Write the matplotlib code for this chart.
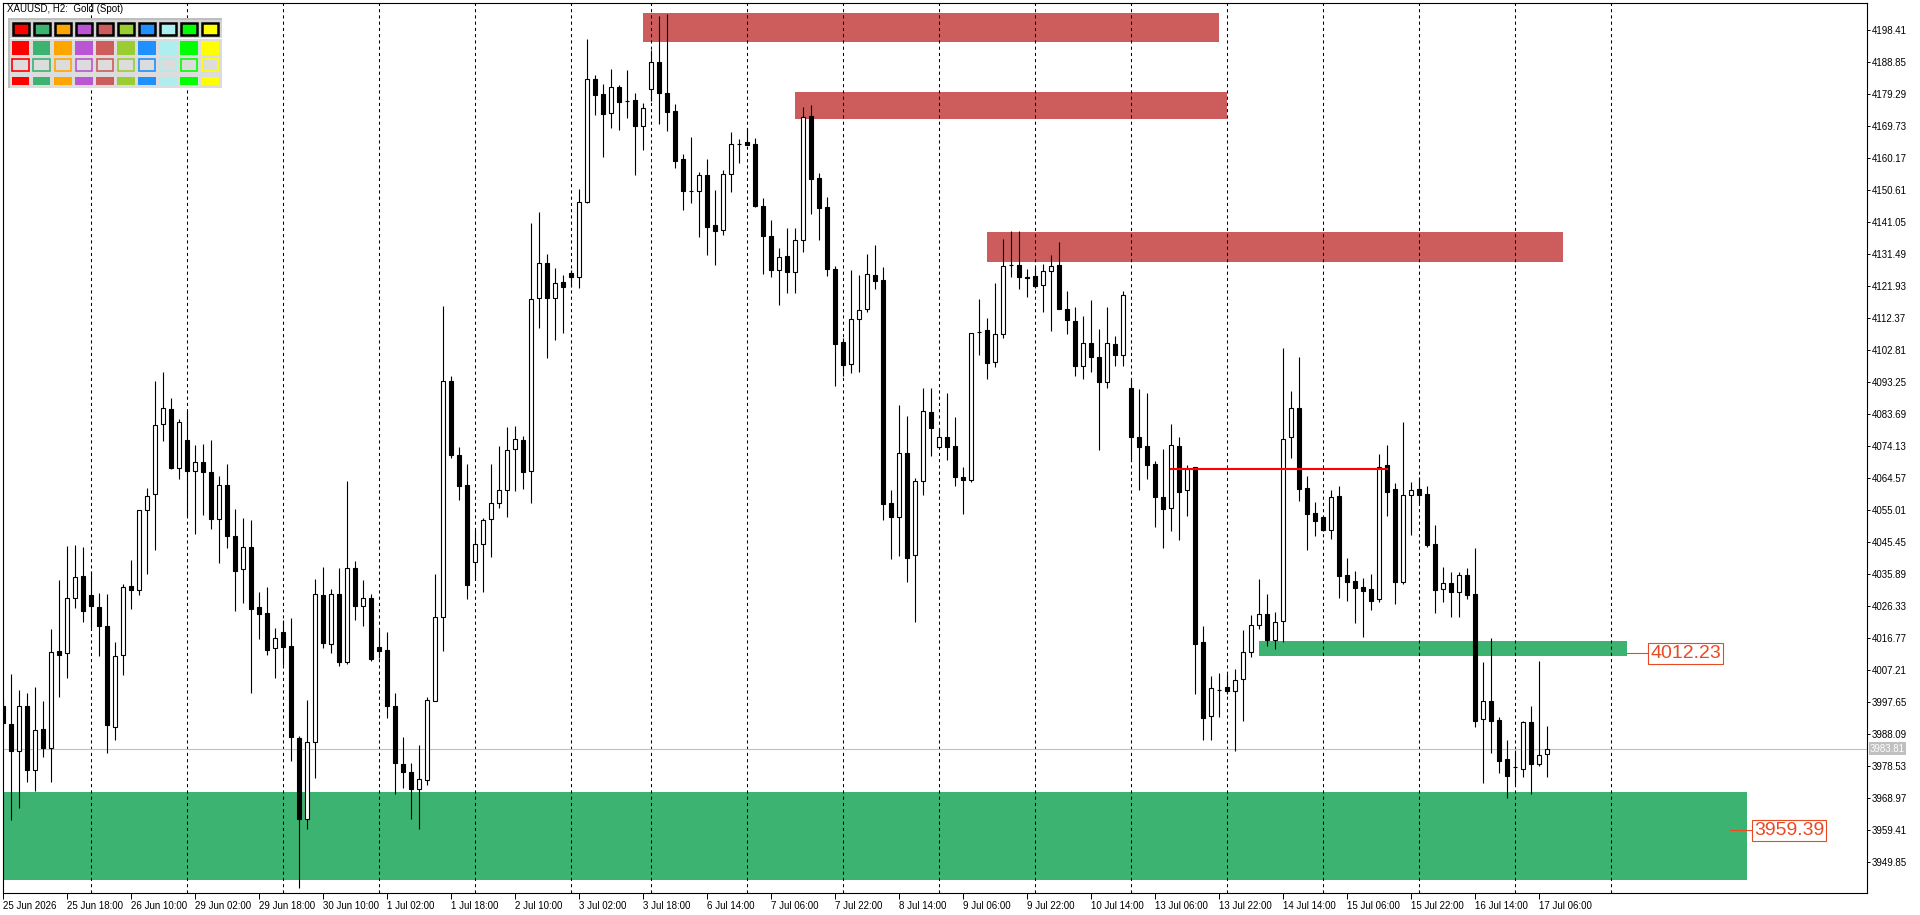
import numpy as np
import pandas as pd
import matplotlib
matplotlib.use("Agg")
import matplotlib.pyplot as plt
from matplotlib.patches import Rectangle

plt.rcParams['font.family'] = ['Liberation Sans', 'DejaVu Sans']

# trading sessions (H2 bars)
day_dates = ['2026-06-25', '2026-06-26', '2026-06-29', '2026-06-30', '2026-07-01', '2026-07-02',
             '2026-07-03', '2026-07-06', '2026-07-07', '2026-07-08', '2026-07-09', '2026-07-10',
             '2026-07-13', '2026-07-14', '2026-07-15', '2026-07-16', '2026-07-17']
day_first_hour = [2, 0, 0, 0, 0, 0, 0, 0, 0, 0, 0, 0, 0, 0, 0, 0, 0]
day_bar_count = [11, 12, 12, 12, 12, 12, 10, 12, 12, 12, 12, 12, 12, 12, 12, 12, 5]

opens = [3996.5, 3991.1, 3983.0, 3996.5, 3977.5, 3989.6, 3984.1, 4012.9, 4012.3, 4028.7,
         4035.3, 4029.7, 4026.0, 4020.4, 3990.4, 4011.9, 4032.3, 4031.1, 4055.0, 4059.9,
         4080.8, 4085.2, 4067.6, 4075.9, 4066.7, 4069.5, 4066.5, 4052.3, 4062.5, 4047.3,
         4037.4, 4044.0, 4026.0, 4024.4, 4013.8, 4018.8, 4014.6, 3987.0, 3962.7, 3985.7,
         4029.7, 4015.2, 4030.0, 4009.8, 4037.7, 4026.4, 4028.9, 4014.3, 4013.3, 3996.4,
         3979.1, 3976.7, 3971.7, 3974.4, 3998.0, 4023.0, 4093.6, 4071.5, 4062.7, 4039.6,
         4044.9, 4052.4, 4057.2, 4061.0, 4073.2, 4076.0, 4066.8, 4118.3, 4128.8, 4118.3,
         4123.1, 4125.8, 4124.6, 4147.0, 4183.8, 4179.3, 4173.6, 4181.4, 4177.4, 4177.6,
         4169.9, 4180.8, 4188.8, 4179.6, 4174.2, 4159.9, 4150.3, 4150.5, 4155.2, 4140.1,
         4138.7, 4155.4, 4164.3, 4164.9, 4164.3, 4145.8, 4136.9, 4126.9, 4130.9, 4126.3,
         4135.8, 4172.8, 4154.2, 4145.6, 4127.1, 4105.3, 4098.6, 4112.1, 4115.0, 4125.3,
         4123.8, 4057.2, 4053.1, 4072.0, 4041.6, 4063.7, 4084.3, 4074.0, 4076.8, 4074.1,
         4065.1, 4064.2, 4108.3, 4108.9, 4099.2, 4107.8, 4128.2, 4128.2, 4124.8, 4124.9,
         4122.2, 4126.5, 4128.2, 4115.1, 4111.7, 4098.0, 4104.9, 4100.7, 4093.2, 4104.6,
         4101.3, 4091.5, 4076.8, 4074.1, 4068.8, 4058.9, 4055.6, 4074.1, 4061.0, 4067.9,
         4015.6, 3993.5, 4001.3, 4002.1, 4000.9, 4004.5, 4012.6, 4020.6, 4023.9, 4016.2,
         4021.8, 4076.8, 4085.5, 4061.6, 4054.1, 4052.9, 4049.2, 4059.2, 4035.6, 4033.9,
         4032.0, 4031.5, 4028.4, 4068.4, 4061.3, 4033.7, 4059.5, 4061.3, 4059.8, 4044.8,
         4031.4, 4033.3, 4030.7, 4035.7, 4030.0, 3992.6, 3997.9, 3992.4, 3980.6, 3978.3,
         3977.8, 3991.7, 3979.2, 3982.1]
highs = [3999.0, 4006.0, 4001.3, 4000.5, 4002.3, 3998.0, 4019.5, 4034.1, 4044.4, 4044.6,
         4044.0, 4036.8, 4030.3, 4030.0, 4015.6, 4033.1, 4040.1, 4055.0, 4061.6, 4093.6,
         4096.3, 4088.7, 4082.3, 4084.8, 4074.5, 4074.7, 4075.9, 4065.3, 4068.8, 4055.4,
         4052.8, 4052.1, 4030.6, 4032.2, 4019.7, 4022.3, 4022.7, 3987.5, 3998.4, 4034.6,
         4038.1, 4031.5, 4037.9, 4063.9, 4039.8, 4034.3, 4029.9, 4019.1, 4018.8, 4000.4,
         3987.2, 3979.4, 3985.0, 3999.1, 4035.9, 4116.1, 4095.0, 4074.0, 4068.7, 4049.0,
         4052.7, 4068.7, 4074.3, 4079.9, 4080.2, 4077.3, 4140.7, 4144.1, 4131.6, 4127.3,
         4125.3, 4126.8, 4151.0, 4195.7, 4185.0, 4182.3, 4186.8, 4182.1, 4186.6, 4179.6,
         4176.6, 4192.5, 4202.7, 4203.2, 4176.3, 4161.5, 4166.6, 4156.0, 4159.9, 4150.7,
         4156.7, 4167.9, 4165.8, 4169.1, 4166.1, 4148.2, 4141.7, 4133.3, 4139.3, 4139.3,
         4175.4, 4176.0, 4155.8, 4148.6, 4128.0, 4106.4, 4126.8, 4125.3, 4131.6, 4134.3,
         4127.6, 4061.1, 4086.4, 4083.1, 4064.6, 4091.6, 4091.6, 4079.6, 4090.2, 4082.9,
         4067.9, 4108.1, 4118.1, 4112.5, 4123.0, 4136.2, 4138.5, 4138.5, 4127.0, 4127.7,
         4128.5, 4131.3, 4135.2, 4120.5, 4115.8, 4113.0, 4117.7, 4109.2, 4115.7, 4107.0,
         4120.4, 4094.2, 4091.3, 4090.0, 4069.6, 4073.3, 4080.8, 4076.9, 4068.4, 4067.9,
         4020.4, 4005.4, 4006.3, 4006.1, 4007.5, 4019.3, 4023.6, 4034.5, 4030.0, 4024.6,
         4103.5, 4090.7, 4100.8, 4065.2, 4057.5, 4053.4, 4061.1, 4062.3, 4040.8, 4036.9,
         4034.9, 4036.0, 4071.8, 4074.5, 4063.1, 4081.3, 4063.5, 4065.1, 4062.2, 4050.5,
         4038.0, 4036.5, 4036.6, 4037.8, 4043.8, 4009.7, 4016.8, 3993.4, 3986.4, 3983.3,
         3992.2, 3996.5, 4010.0, 3990.5]
lows = [3989.9, 3962.6, 3966.0, 3973.9, 3971.2, 3981.3, 3973.7, 3999.3, 4005.0, 4025.9,
        4021.7, 4019.7, 4011.5, 3982.6, 3986.5, 4005.8, 4025.5, 4029.6, 4036.1, 4043.2,
        4075.7, 4067.2, 4064.5, 4053.2, 4048.0, 4053.7, 4049.5, 4039.4, 4043.7, 4025.0,
        4027.4, 4000.3, 4016.5, 4011.9, 4005.0, 4008.9, 3980.0, 3942.1, 3959.9, 3975.1,
        4013.8, 4012.5, 4008.5, 4009.2, 4022.1, 4020.5, 4010.1, 4010.9, 3993.1, 3970.4,
        3972.1, 3962.9, 3959.9, 3972.8, 3998.0, 4013.0, 4070.5, 4058.0, 4028.6, 4034.2,
        4030.7, 4041.1, 4055.6, 4053.1, 4060.9, 4061.5, 4057.3, 4109.4, 4100.4, 4105.9,
        4108.1, 4121.8, 4121.3, 4146.7, 4173.1, 4160.7, 4169.3, 4168.6, 4172.3, 4155.2,
        4162.7, 4177.4, 4170.4, 4168.4, 4157.4, 4144.7, 4146.9, 4136.8, 4131.3, 4128.3,
        4137.3, 4150.2, 4158.9, 4164.1, 4145.5, 4125.6, 4124.6, 4116.3, 4119.8, 4119.8,
        4132.1, 4143.6, 4135.8, 4125.1, 4092.2, 4095.0, 4096.0, 4096.3, 4114.3, 4121.2,
        4052.1, 4040.5, 4041.3, 4033.6, 4021.7, 4059.6, 4071.2, 4073.5, 4070.1, 4062.4,
        4053.9, 4063.6, 4101.5, 4094.1, 4097.9, 4106.6, 4124.8, 4121.2, 4118.7, 4121.5,
        4114.3, 4108.7, 4115.2, 4107.8, 4095.0, 4094.3, 4096.2, 4073.1, 4091.4, 4098.0,
        4098.0, 4069.6, 4061.2, 4064.5, 4050.1, 4043.6, 4048.9, 4046.2, 4053.4, 4000.2,
        3986.5, 3986.5, 3993.4, 4000.1, 3983.2, 3992.2, 4011.1, 4019.4, 4014.6, 4013.7,
        4015.6, 4070.6, 4057.7, 4043.0, 4047.4, 4048.7, 4046.4, 4028.8, 4027.8, 4021.2,
        4017.3, 4025.2, 4027.7, 4053.4, 4026.9, 4032.9, 4047.7, 4057.3, 4043.9, 4024.2,
        4027.7, 4023.0, 4023.0, 4028.6, 3990.4, 3973.6, 3982.6, 3976.4, 3969.2, 3973.1,
        3975.2, 3970.3, 3978.6, 3975.2]
closes = [3991.4, 3983.0, 3996.5, 3977.5, 3989.3, 3984.1, 4012.6, 4011.9, 4028.7, 4035.0,
          4025.0, 4026.5, 4020.3, 3991.0, 4011.4, 4032.0, 4031.1, 4055.0, 4059.3, 4080.5,
          4085.5, 4067.6, 4081.4, 4066.7, 4069.5, 4066.4, 4052.3, 4062.5, 4047.3, 4036.8,
          4044.0, 4025.6, 4023.9, 4013.4, 4016.8, 4014.1, 3987.2, 3962.7, 3985.7, 4030.0,
          4015.5, 4030.0, 4009.8, 4037.7, 4026.4, 4028.9, 4010.5, 4013.1, 3996.4, 3979.5,
          3976.7, 3971.7, 3974.8, 3998.3, 4023.0, 4093.6, 4071.4, 4062.4, 4032.6, 4044.9,
          4052.0, 4057.2, 4061.0, 4073.0, 4076.2, 4066.5, 4118.2, 4128.8, 4118.3, 4122.8,
          4121.8, 4124.6, 4147.0, 4183.8, 4179.2, 4173.3, 4181.4, 4177.1, 4177.4, 4169.9,
          4175.1, 4188.8, 4179.6, 4174.1, 4159.5, 4150.5, 4150.3, 4155.2, 4139.7, 4138.3,
          4155.4, 4164.3, 4164.3, 4164.2, 4146.0, 4136.9, 4126.9, 4130.6, 4126.3, 4135.8,
          4172.4, 4154.1, 4145.4, 4127.2, 4104.8, 4098.3, 4112.1, 4114.7, 4125.5, 4123.4,
          4057.0, 4053.1, 4072.0, 4040.8, 4063.7, 4084.6, 4079.7, 4076.8, 4074.0, 4065.0,
          4064.2, 4108.1, 4108.4, 4099.1, 4107.8, 4127.9, 4128.3, 4124.8, 4124.4, 4122.1,
          4126.5, 4127.9, 4115.2, 4112.0, 4098.1, 4104.9, 4100.7, 4093.2, 4104.9, 4101.3,
          4119.2, 4076.8, 4073.8, 4068.6, 4058.9, 4055.5, 4074.4, 4060.4, 4067.4, 4015.2,
          3993.1, 4001.8, 4001.3, 4000.9, 4004.2, 4012.6, 4020.6, 4023.9, 4016.2, 4021.5,
          4076.2, 4085.5, 4061.5, 4054.0, 4051.9, 4049.2, 4058.9, 4035.5, 4033.5, 4031.9,
          4031.0, 4028.0, 4067.8, 4060.6, 4033.7, 4059.5, 4061.1, 4059.7, 4044.7, 4031.3,
          4033.3, 4030.7, 4035.7, 4029.8, 3992.2, 3998.1, 3992.2, 3980.2, 3975.7, 3978.3,
          3991.7, 3979.2, 3982.0, 3983.81]

# zones: (first bar, last bar, low, high)
supply_zones = [(80, 152, 4195.0, 4203.5), (99, 153, 4172.0, 4180.0), (123, 195, 4129.2, 4138.1)]
demand_zones = [(157, 203, 4011.6, 4016.0), (-2, 218, 3944.7, 3970.8)]
zone_label_prices = [4012.23, 3959.39]
level_price = 4067.4
level_bars = (146, 173)

palette = ['#FF0000', '#3CB371', '#FFA500', '#BA55D3', '#CD5C5C',
           '#9ACD32', '#1E90FF', '#AFEEEE', '#00FF00', '#FFFF00']

# ---- time axis from sessions
times = []
for d, h0, n in zip(day_dates, day_first_hour, day_bar_count):
    base = pd.Timestamp(d)
    times += [base + pd.Timedelta(hours=h0 + 2 * k) for k in range(n)]
day_starts = list(np.cumsum(day_bar_count))
grid_bars = day_starts[:-1] + [day_starts[-2] + 12]

o = np.array(opens); h = np.array(highs); l = np.array(lows); c = np.array(closes)
x = np.arange(len(o))

W, H = 1920, 915
fig = plt.figure(figsize=(W / 100, H / 100), dpi=100)
ax = fig.add_axes([2.7 / W, (H - 893) / H, (1867 - 2.7) / W, (893 - 3) / H])
ax.set_xlim(0.025, 233.06)
ax.set_ylim(3940.68, 4206.56)

zone_red = '#CD5C5C'
zone_green = '#3CB371'
for b0, b1, lo, hi in supply_zones:
    ax.add_patch(Rectangle((b0, lo), b1 - b0, hi - lo, fc=zone_red, ec='none', zorder=1))
for b0, b1, lo, hi in demand_zones:
    ax.add_patch(Rectangle((b0, lo), b1 - b0, hi - lo, fc=zone_green, ec='none', zorder=1))

for gb in grid_bars:
    ax.axvline(gb, color='black', lw=0.75, ls=(0, (3, 3)), zorder=1.5)

ax.axhline(c[-1], color='#C0C0C0', lw=0.8, zorder=2)

# candles
ax.vlines(x, l, h, color='black', lw=0.8, zorder=3)
bull = c >= o
body_lo = np.minimum(o, c)
body_h = np.abs(c - o)
ax.bar(x[bull], body_h[bull], bottom=body_lo[bull], width=0.5,
       facecolor='white', edgecolor='black', linewidth=0.8, zorder=4)
ax.bar(x[~bull], body_h[~bull], bottom=body_lo[~bull], width=0.5,
       facecolor='black', edgecolor='black', linewidth=0.8, zorder=4)

ax.plot(level_bars, [level_price, level_price], color='#FF0000', lw=1.5, zorder=5)

# zone price labels
lab_col = '#E84A23'
ax.plot([203, 205.7], [zone_label_prices[0]] * 2, color=lab_col, lw=0.8, zorder=5)
ax.text(205.95, zone_label_prices[0], f'{zone_label_prices[0]:.2f}', color=lab_col, fontsize=14,
        ha='left', va='center', zorder=6,
        bbox=dict(boxstyle='square,pad=0.1', fc='white', ec=lab_col, lw=0.8))
ax.plot([215.9, 218.72], [zone_label_prices[1]] * 2, color=lab_col, lw=0.8, zorder=5)
ax.text(218.97, zone_label_prices[1], f'{zone_label_prices[1]:.2f}', color=lab_col, fontsize=14,
        ha='left', va='center', zorder=6, clip_on=False,
        bbox=dict(boxstyle='square,pad=0.1', fc='white', ec=lab_col, lw=0.8))

# axes styling
for s in ax.spines.values():
    s.set_color('black')
    s.set_linewidth(0.8)
ax.yaxis.tick_right()
yt = np.round(3949.85 + 9.56 * np.arange(27), 2)
ax.set_yticks(yt)
ax.set_yticklabels([f'{v:.2f}' for v in yt])
ax.tick_params(axis='y', length=2.5, width=0.7, pad=1, labelsize=7)

xt = list(range(0, len(times), 8))
xlabels = []
for i in xt:
    t = times[i]
    xlabels.append(f'{t.day} {t:%b} {t.year}' if i == 0 else f'{t.day} {t:%b %H:%M}')
ax.set_xticks(xt)
ax.set_xticklabels(xlabels)
ax.tick_params(axis='x', length=4, width=0.7, pad=2, labelsize=7)
for lab in ax.get_xticklabels():
    lab.set_horizontalalignment('left')

ax.text(1.0016, c[-1], f'{c[-1]:.2f}', transform=ax.get_yaxis_transform(), color='white',
        fontsize=7, ha='left', va='center', clip_on=False, zorder=7,
        bbox=dict(boxstyle='square,pad=0.12', fc='#C0C0C0', ec='none'))

# overlay in pixel coordinates: title and colour panel
ov = fig.add_axes([0, 0, 1, 1], zorder=10)
ov.set_xlim(0, W)
ov.set_ylim(H, 0)
ov.axis('off')
ov.patch.set_alpha(0)
ov.text(7, 4, 'XAUUSD, H2:  Gold (Spot)', fontsize=7, ha='left', va='top', color='black')

ov.add_patch(Rectangle((7.7, 17.7), 214.3, 70, fc='#DCDCDC', ec='none'))
ov.add_patch(Rectangle((7.7, 17.7), 214.3, 2.3, fc='#BEBEBE', ec='none'))
ov.add_patch(Rectangle((7.7, 17.7), 2.3, 70, fc='#BEBEBE', ec='none'))
ov.add_patch(Rectangle((10, 20), 212, 17.5, fc='#D4D4D4', ec='none'))
ov.add_patch(Rectangle((10, 37.6), 212, 1.4, fc='white', ec='none'))
for j, col in enumerate(palette):
    px = 11.7 + 21.05 * j
    ov.add_patch(Rectangle((px + 0.8, 22.8), 16.2, 12.6, fc=col, ec='black', lw=1.8))
    ov.add_patch(Rectangle((px, 40.7), 17.7, 14.3, fc=col, ec='none'))
    ov.add_patch(Rectangle((px + 0.7, 59), 16.3, 12.3, fc='#DCDCDC', ec=col, lw=1.2))
    ov.add_patch(Rectangle((px, 77), 17.7, 8, fc=col, ec='none'))

fig.savefig('out.png', dpi=100)
